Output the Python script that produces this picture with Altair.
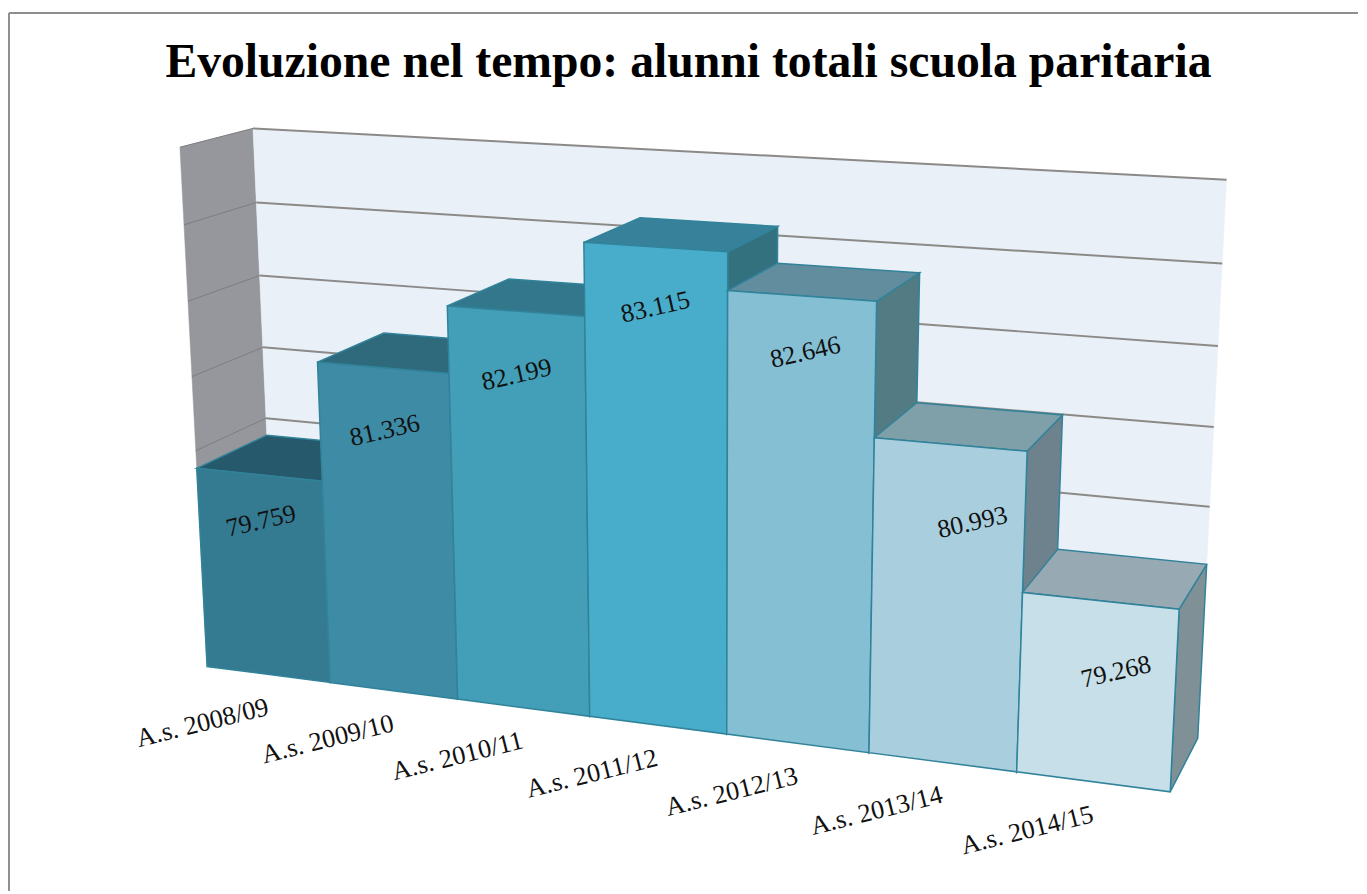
import altair as alt
import numpy as np
import pandas as pd

# ---- chart values
categories = ["A.s. 2008/09", "A.s. 2009/10", "A.s. 2010/11", "A.s. 2011/12",
              "A.s. 2012/13", "A.s. 2013/14", "A.s. 2014/15"]
alunni = [79759, 81336, 82199, 83115, 82646, 80993, 79268]
value_labels = ["79.759", "81.336", "82.199", "83.115", "82.646", "80.993", "79.268"]
title_text = "Evoluzione nel tempo: alunni totali scuola paritaria"
axis_floor = 77000
grid_values = [80000, 81000, 82000, 83000, 84000]

# ---- where each value label sits on its bar (fraction along the bar, drop below the top in pupils)
label_along = [0.5, 0.5, 0.5, 0.5, 0.53, 0.66, 0.62]
label_drop = [630, 820, 808, 737, 680, 927, 855]

# ---- styles
front_colors = ["#347b92", "#3e8ba5", "#439eb7", "#48adca", "#84bfd3", "#a9cfde", "#c6dfe9"]
top_colors = ["#25596b", "#2e697c", "#33778c", "#37819a", "#628d9e", "#7f9fa9", "#97a9b2"]
side_colors = ["#25596b", "#2e697c", "#33778c", "#33717f", "#537b84", "#6d828d", "#7f9097"]
edge_color = "#31839a"
wall_color = "#e9f0f7"
side_wall_color = "#95979c"
grid_color = "#8c8a88"
frame_color = "#8f8f8f"

W, H = 1359, 886
OFFSET = 8  # page margin
CAT_SHIFT = (-66, 49)  # category label centre relative to the bar's foot

# ---- calibration of the 3D view: (category position, depth, thousands of pupils) -> picture position
view_points = [
    (0, 0, 77, 208, 669), (1, 0, 77, 332, 683), (2, 0, 77, 461, 701), (3, 0, 77, 593, 719),
    (4, 0, 77, 732, 736), (5, 0, 77, 875, 754), (6, 0, 77, 1024, 773), (7, 0, 77, 1177, 794),
    (7, 1, 77, 1206, 742),
    (0, 0, 79.759, 198, 467), (1, 0, 81.336, 319, 361), (2, 0, 81.336, 453, 373),
    (2, 0, 82.199, 450, 305), (3, 0, 82.199, 588, 316), (3, 0, 83.115, 587, 241),
    (4, 0, 83.115, 732, 251), (4, 0, 82.646, 733, 291), (5, 0, 82.646, 882, 301),
    (5, 0, 80.993, 881, 438), (6, 0, 80.993, 1034, 452), (6, 0, 79.268, 1030, 593),
    (7, 0, 79.268, 1187, 609),
    (0, 1, 79.759, 268, 435), (1, 1, 81.336, 387, 332), (3, 1, 83.115, 643, 216),
    (4, 1, 83.115, 783, 225), (4, 1, 82.646, 783, 262), (5, 1, 82.646, 926, 272),
    (5, 1, 80.993, 923, 401), (6, 1, 80.993, 1069, 415), (6, 1, 79.268, 1064, 550),
    (7, 1, 79.268, 1214, 565),
    (0, 1, 84, 255, 127), (0, 1, 83, 258, 201), (0, 1, 82, 261, 275), (0, 1, 81, 265, 347),
    (0, 1, 80, 268, 417),
    (7, 1, 84, 1235, 177), (7, 1, 83, 1230, 262), (7, 1, 82, 1226, 345), (7, 1, 81, 1222, 427),
    (7, 1, 80, 1218, 507),
    (0, 0, 84, 181, 145), (0, 0, 83, 185, 223), (0, 0, 82, 190, 298), (0, 0, 81, 193, 377),
    (0, 0, 80, 197, 452),
]

rows, rhs = [], []
for u, d, z, px, py in view_points:
    rows.append([u, d, z, 1, 0, 0, 0, 0, -px * u, -px * d, -px * z])
    rhs.append(px)
    rows.append([0, 0, 0, 0, u, d, z, 1, -py * u, -py * d, -py * z])
    rhs.append(py)
cam = np.linalg.lstsq(np.array(rows, float), np.array(rhs, float), rcond=None)[0]


def project(u, d, value):
    z = value / 1000.0
    w = cam[8] * u + cam[9] * d + cam[10] * z + 1
    return [float((cam[0] * u + cam[1] * d + cam[2] * z + cam[3]) / w),
            float((cam[4] * u + cam[5] * d + cam[6] * z + cam[7]) / w)]


def polygon(corners, fill, stroke, width):
    ring = [project(*c) for c in corners]
    ring.append(ring[0])
    return {"type": "Feature",
            "geometry": {"type": "Polygon", "coordinates": [ring]},
            "properties": {"fill": fill, "stroke": stroke, "sw": width}}


def segment(a, b, stroke, width):
    return {"type": "Feature",
            "geometry": {"type": "LineString", "coordinates": [project(*a), project(*b)]},
            "properties": {"stroke": stroke, "sw": width}}


top_value = grid_values[-1]
n = len(categories)
wall_faces = [
    polygon([(0, 0, axis_floor), (0, 0, top_value), (0, 1, top_value), (0, 1, axis_floor)],
            side_wall_color, side_wall_color, 0.5),
    polygon([(0, 1, axis_floor), (0, 1, top_value), (n, 1, top_value), (n, 1, axis_floor)],
            wall_color, wall_color, 0.5),
]
grid_lines = []
for g in grid_values:
    grid_lines.append(segment((0, 1, g), (n, 1, g), grid_color, 2))
    grid_lines.append(segment((0, 0, g), (0, 1, g), "#7d7d7d", 1))

bar_faces = []
for i, v in enumerate(alunni):
    bar_faces.append(polygon([(i + 1, 0, axis_floor), (i + 1, 0, v), (i + 1, 1, v), (i + 1, 1, axis_floor)],
                             side_colors[i], edge_color, 1.5))
    bar_faces.append(polygon([(i, 0, v), (i, 1, v), (i + 1, 1, v), (i + 1, 0, v)],
                             top_colors[i], edge_color, 1.5))
    bar_faces.append(polygon([(i, 0, axis_floor), (i, 0, v), (i + 1, 0, v), (i + 1, 0, axis_floor)],
                             front_colors[i], edge_color, 1.5))

PROJ = dict(type="identity", scale=1, translate=[-OFFSET, -OFFSET])


def shapes(features):
    return alt.Chart(alt.Data(values=features)).mark_geoshape().encode(
        fill=alt.Color("properties.fill:N", scale=None),
        stroke=alt.Color("properties.stroke:N", scale=None),
        strokeWidth=alt.StrokeWidth("properties.sw:Q", scale=None),
    ).project(**PROJ)


walls = shapes(wall_faces)
grid = alt.Chart(alt.Data(values=grid_lines)).mark_geoshape(filled=False).encode(
    stroke=alt.Color("properties.stroke:N", scale=None),
    strokeWidth=alt.StrokeWidth("properties.sw:Q", scale=None),
).project(**PROJ)
bars = shapes(bar_faces)

x_pos = alt.X("px:Q", axis=None, scale=alt.Scale(domain=[OFFSET, W + OFFSET], range=[0, W]))
y_pos = alt.Y("py:Q", axis=None, scale=alt.Scale(domain=[OFFSET, H + OFFSET], range=[0, H]))

value_df = pd.DataFrame({
    "px": [project(i + label_along[i], 0, alunni[i] - label_drop[i])[0] for i in range(n)],
    "py": [project(i + label_along[i], 0, alunni[i] - label_drop[i])[1] for i in range(n)],
    "t": value_labels,
})
cat_df = pd.DataFrame({
    "px": [project(i + 0.5, 0, axis_floor)[0] + CAT_SHIFT[0] for i in range(n)],
    "py": [project(i + 0.5, 0, axis_floor)[1] + CAT_SHIFT[1] for i in range(n)],
    "t": categories,
})
title_df = pd.DataFrame({"px": [693], "py": [75], "t": [title_text]})

value_text = alt.Chart(value_df).mark_text(
    font="Liberation Serif", fontSize=26, angle=347, color="#111111", align="center", baseline="middle"
).encode(x=x_pos, y=y_pos, text="t:N")
cat_text = alt.Chart(cat_df).mark_text(
    font="Liberation Serif", fontSize=26.5, angle=346, color="#111111", align="center", baseline="middle"
).encode(x=x_pos, y=y_pos, text="t:N")
title_mark = alt.Chart(title_df).mark_text(
    font="Liberation Serif", fontSize=48, fontWeight="bold", color="#000000", align="center",
    baseline="alphabetic"
).encode(x=x_pos, y=y_pos, text="t:N")

frame_v = alt.Chart(pd.DataFrame({"a": [0]})).mark_rule(color=frame_color, strokeWidth=2).encode(
    x=alt.value(1), y=alt.value(2), y2=alt.value(H))
frame_h = alt.Chart(pd.DataFrame({"a": [0]})).mark_rule(color=frame_color, strokeWidth=2).encode(
    x=alt.value(1), x2=alt.value(W), y=alt.value(2))

chart = alt.layer(frame_v, frame_h, walls, grid, bars, value_text, cat_text, title_mark).properties(
    width=W, height=H, padding=0, background="white"
).configure_view(stroke=None)

chart.save("out.html", embed_options={"renderer": "svg", "actions": False})
